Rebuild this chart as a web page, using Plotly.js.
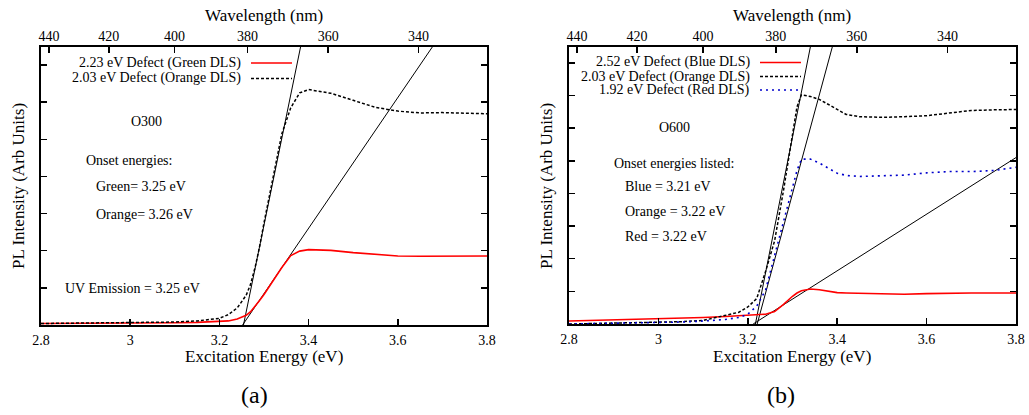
<!DOCTYPE html>
<html>
<head>
<meta charset="utf-8">
<script src="https://cdn.plot.ly/plotly-3.0.1.min.js"></script>
<style>
html,body{margin:0;padding:0;background:#fff;}
#chart{width:1029px;height:415px;}
</style>
</head>
<body>
<div id="chart"></div>
<script>
// ---------- data ----------
const HC = 1239.84; // eV*nm, converts wavelength tick labels to energy positions
const energyTicks = [2.8, 3.0, 3.2, 3.4, 3.6, 3.8];
const wavelengthTicks = [440, 420, 400, 380, 360, 340];

// Panel (a) O300
const energyA = [2.80, 2.90, 3.00, 3.05, 3.10, 3.15, 3.18, 3.20, 3.22, 3.24, 3.26, 3.27, 3.28, 3.29, 3.30, 3.32, 3.34, 3.36, 3.38, 3.40, 3.42, 3.45, 3.50, 3.55, 3.60, 3.65, 3.70, 3.75, 3.80];
const greenDLS_A = [0.04, 0.04, 0.05, 0.05, 0.06, 0.07, 0.08, 0.09, 0.11, 0.16, 0.26, 0.36, 0.50, 0.66, 0.82, 1.18, 1.55, 1.87, 1.99, 2.03, 2.03, 2.01, 1.95, 1.90, 1.86, 1.85, 1.85, 1.86, 1.86];
const orangeDLS_A = [0.04, 0.05, 0.06, 0.07, 0.08, 0.11, 0.14, 0.18, 0.28, 0.46, 0.80, 1.10, 1.55, 2.10, 2.75, 3.95, 5.15, 5.85, 6.25, 6.34, 6.30, 6.24, 6.05, 5.86, 5.76, 5.71, 5.72, 5.70, 5.69];
const fitOnsetA = [3.252, 3.254];   // onset (x-intercept) of tangent lines: green, orange
const fitSlopeA = [17.6, 58.5];

// Panel (b) O600
const energyB = [2.80, 2.90, 3.00, 3.05, 3.10, 3.15, 3.18, 3.20, 3.22, 3.24, 3.26, 3.28, 3.30, 3.31, 3.32, 3.34, 3.36, 3.38, 3.40, 3.42, 3.45, 3.50, 3.55, 3.60, 3.65, 3.70, 3.75, 3.80];
const blueDLS_B = [0.09, 0.12, 0.16, 0.18, 0.20, 0.23, 0.25, 0.27, 0.28, 0.30, 0.38, 0.60, 0.85, 0.95, 1.02, 1.07, 1.05, 1.00, 0.96, 0.95, 0.94, 0.91, 0.91, 0.93, 0.95, 0.95, 0.95, 0.95];
const orangeDLS_B = [0.00, 0.02, 0.05, 0.07, 0.11, 0.27, 0.36, 0.52, 0.78, 1.62, 2.55, 4.10, 5.85, 6.65, 7.02, 6.97, 6.88, 6.72, 6.58, 6.42, 6.35, 6.33, 6.35, 6.38, 6.46, 6.54, 6.56, 6.57];
const redDLS_B = [0.00, 0.02, 0.04, 0.06, 0.09, 0.14, 0.20, 0.30, 0.55, 1.05, 2.10, 3.15, 4.20, 4.70, 5.05, 5.05, 4.93, 4.78, 4.62, 4.55, 4.52, 4.54, 4.56, 4.63, 4.67, 4.67, 4.70, 4.80];
const fitOnsetB = [3.212, 3.217, 3.221]; // blue, orange, red tangent lines
const fitSlopeB = [8.67, 69.0, 50.5];

const legendA = ['2.23 eV Defect (Green DLS)', '2.03 eV Defect (Orange DLS)'];
const legendB = ['2.52 eV Defect (Blue DLS)', '2.03 eV Defect (Orange DLS)', '1.92 eV Defect (Red DLS)'];
const notesA = ['O300', 'Onset energies:', 'Green= 3.25 eV', 'Orange= 3.26 eV', 'UV Emission = 3.25 eV'];
const notesB = ['O600', 'Onset energies listed:', 'Blue = 3.21 eV', 'Orange = 3.22 eV', 'Red = 3.22 eV'];

// ---------- styles ----------
const W = 1029, H = 415;
const FONT = 'Liberation Serif, Times New Roman, DejaVu Serif, serif';
const sRed = {color: '#ff0000', width: 1.6};
const sDash = {color: '#000000', width: 1.5, dash: '3px,2px'};
const sBlue = {color: '#0000cc', width: 1.6, dash: '2px,4px'};
const sFit = {color: '#000000', width: 1};

const px = v => v / W;
const py = v => 1 - v / H;

const xmax = energyTicks[energyTicks.length - 1];
function fitTrace(onset, slope, xa, ya) {
  return {x: [onset, xmax], y: [0, slope * (xmax - onset)], xaxis: xa, yaxis: ya,
          mode: 'lines', line: sFit, hoverinfo: 'skip', showlegend: false};
}
function curve(x, y, style, xa, ya) {
  return {x: x, y: y, xaxis: xa, yaxis: ya, mode: 'lines', line: style, showlegend: false};
}

const traces = [
  fitTrace(fitOnsetA[0], fitSlopeA[0], 'x', 'y'),
  fitTrace(fitOnsetA[1], fitSlopeA[1], 'x', 'y'),
  curve(energyA, greenDLS_A, sRed, 'x', 'y'),
  curve(energyA, orangeDLS_A, sDash, 'x', 'y'),
  fitTrace(fitOnsetB[0], fitSlopeB[0], 'x3', 'y3'),
  fitTrace(fitOnsetB[1], fitSlopeB[1], 'x3', 'y3'),
  fitTrace(fitOnsetB[2], fitSlopeB[2], 'x3', 'y3'),
  curve(energyB, blueDLS_B, sRed, 'x3', 'y3'),
  curve(energyB, orangeDLS_B, sDash, 'x3', 'y3'),
  curve(energyB, redDLS_B, sBlue, 'x3', 'y3'),
  {x: [], y: [], xaxis: 'x2', yaxis: 'y', mode: 'lines', showlegend: false},
  {x: [], y: [], xaxis: 'x4', yaxis: 'y3', mode: 'lines', showlegend: false}
];

const tickFont = {family: FONT, size: 14, color: '#000'};
const wlEnergies = wavelengthTicks.map(w => HC / w);

function bottomAxis(domain, anchor) {
  return {domain: domain, anchor: anchor, range: [energyTicks[0], xmax], tickvals: energyTicks,
          ticks: 'inside', ticklen: 6, tickwidth: 1.5, tickcolor: '#000',
          showline: true, linewidth: 2, linecolor: '#000', mirror: true,
          showgrid: false, zeroline: false, tickfont: tickFont, ticklabelstandoff: 1};
}
function topAxis(over, anchor) {
  return {overlaying: over, anchor: anchor, side: 'top', range: [energyTicks[0], xmax],
          tickvals: wlEnergies, ticktext: wavelengthTicks.map(String),
          ticks: 'inside', ticklen: 6, tickwidth: 1.5, tickcolor: '#000',
          showline: false, showgrid: false, zeroline: false, tickfont: tickFont, ticklabelstandoff: 2};
}
function leftAxis(domain, anchor, top) {
  return {domain: domain, anchor: anchor, range: [0, top], dtick: 1, tick0: 0,
          ticks: 'inside', ticklen: 6, tickwidth: 1.5, tickcolor: '#000', showticklabels: false,
          showline: true, linewidth: 2, linecolor: '#000', mirror: 'ticks',
          showgrid: false, zeroline: false};
}

const annotations = [];
const shapes = [];
function txt(text, x, y, size, xanchor, angle) {
  annotations.push({text: text, xref: 'paper', yref: 'paper', x: px(x), y: py(y),
    xanchor: xanchor || 'center', yanchor: 'middle', showarrow: false,
    textangle: angle || 0, font: {family: FONT, size: size, color: '#000'}});
}

// axis titles
txt('Wavelength (nm)', 264, 15, 17);
txt('Wavelength (nm)', 792, 15, 17);
txt('Excitation Energy (eV)', 264, 356, 17);
txt('Excitation Energy (eV)', 792, 356, 17);
txt('PL Intensity (Arb Units)', 18, 186, 17, 'center', -90);
txt('PL Intensity (Arb Units)', 546, 186, 17, 'center', -90);
txt('(a)', 254, 395, 24);
txt('(b)', 781, 395, 24);

// panel notes
txt(notesA[0], 146, 122, 14);
txt(notesA[1], 129, 160, 14);
txt(notesA[2], 94, 187, 14, 'left');
txt(notesA[3], 94, 214, 14, 'left');
txt(notesA[4], 63, 288, 14, 'left');
txt(notesB[0], 674, 128, 14);
txt(notesB[1], 674, 163, 14);
txt(notesB[2], 623, 187, 14, 'left');
txt(notesB[3], 623, 211, 14, 'left');
txt(notesB[4], 623, 236, 14, 'left');

// legends (text right-aligned, key sample on its right)
function legendRow(label, style, textRight, y) {
  txt(label, textRight, y, 14, 'right');
  shapes.push({type: 'line', xref: 'paper', yref: 'paper',
    x0: px(textRight + 8), x1: px(textRight + 49), y0: py(y), y1: py(y),
    line: {color: style.color, width: style.width, dash: style.dash || 'solid'}});
}
legendRow(legendA[0], sRed, 243, 63);
legendRow(legendA[1], sDash, 243, 78.5);
legendRow(legendB[0], sRed, 752, 62.5);
legendRow(legendB[1], sDash, 752, 76.5);
legendRow(legendB[2], sBlue, 752, 90);

const layout = {
  width: W, height: H, margin: {l: 0, r: 0, t: 0, b: 0},
  paper_bgcolor: '#fff', plot_bgcolor: '#fff', showlegend: false,
  font: {family: FONT, color: '#000'},
  xaxis: bottomAxis([px(41), px(487)], 'y'),
  xaxis2: topAxis('x', 'y'),
  yaxis: leftAxis([1 - 325 / H, 1 - 46.5 / H], 'x', 7.5),
  xaxis3: bottomAxis([px(569), px(1016)], 'y3'),
  xaxis4: topAxis('x3', 'y3'),
  yaxis3: leftAxis([1 - 324 / H, 1 - 46.5 / H], 'x3', 8.5),
  annotations: annotations,
  shapes: shapes
};

Plotly.newPlot('chart', traces, layout, {staticPlot: true, displayModeBar: false});
</script>
</body>
</html>
